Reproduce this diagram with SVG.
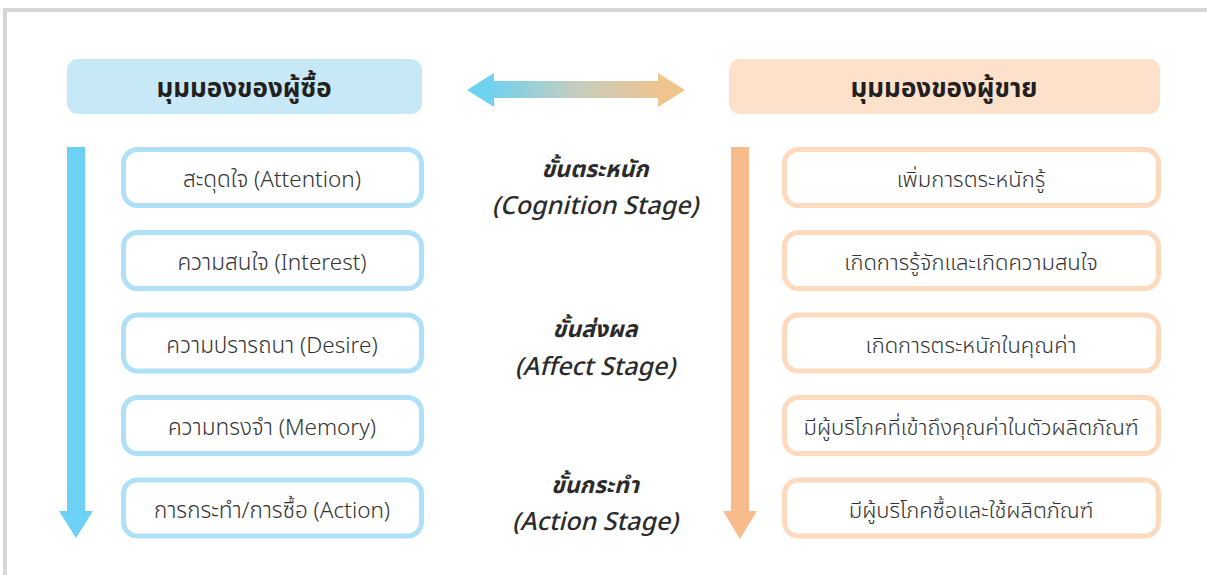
<svg xmlns="http://www.w3.org/2000/svg" width="1207" height="575" viewBox="0 0 1207 575">
  <defs>
    <linearGradient id="gradBoth" x1="467" y1="0" x2="685" y2="0" gradientUnits="userSpaceOnUse">
      <stop offset="0.1" stop-color="#6fd1f0"/>
      <stop offset="0.5" stop-color="#c4cdbf"/>
      <stop offset="0.9" stop-color="#f0c48d"/>
    </linearGradient>
    <style>
      .frame { fill: none; stroke: #d6d6d6; stroke-width: 4; }
      .head-text { font-family: "Noto Sans Thai", "Noto Sans", "Liberation Sans", sans-serif; font-size: 26px; font-weight: bold; fill: #231f20; text-anchor: middle; }
      .box-text { font-family: "Noto Sans Thai", "Noto Sans", "Liberation Sans", sans-serif; font-size: 22.5px; font-weight: 300; fill: #333333; text-anchor: middle; }
      .seller-text { font-size: 22px; }
      .stage-th { font-family: "Noto Sans Thai", "Noto Sans", "Liberation Sans", sans-serif; font-size: 23px; font-style: italic; font-weight: bold; fill: #2b2b2b; text-anchor: middle; }
      .stage-en { font-family: "Noto Sans Thai", "Noto Sans", "Liberation Sans", sans-serif; font-size: 25px; font-style: italic; font-weight: 500; fill: #2b2b2b; text-anchor: middle; }
      .buyer-box { fill: #ffffff; stroke: #aee0f8; stroke-width: 5; }
      .seller-box { fill: #ffffff; stroke: #fdd9bd; stroke-width: 5; }
    </style>
  </defs>

  <rect width="1207" height="575" fill="#ffffff"/>
  <!-- outer frame -->
  <path class="frame" d="M5,575 V10 H1207"/>

  <!-- column headers -->
  <g id="buyer-header">
    <rect x="67" y="59" width="355" height="55" rx="11" fill="#c7e8f7"/>
    <text class="head-text" x="244" y="97">มุมมองของผู้ซื้อ</text>
  </g>
  <g id="seller-header">
    <rect x="729" y="59" width="431" height="55" rx="11" fill="#fde1cb"/>
    <text class="head-text" x="944" y="97">มุมมองของผู้ขาย</text>
  </g>

  <!-- connectors -->
  <g id="connectors">
    <path id="link-headers" d="M467,90 L494,73 V81 H658 V73 L685,90 L658,107 V98 H494 V107 Z" fill="url(#gradBoth)"/>
    <path id="buyer-flow" d="M67,147 H85 V511 H93 L76,538 L59,511 H67 Z" fill="#6dd0f5"/>
    <path id="seller-flow" d="M731,147 H749 V511 H757 L740,539 L723,511 H731 Z" fill="#f8bb8c"/>
  </g>

  <!-- buyer steps -->
  <g id="buyer-attention">
    <rect class="buyer-box" x="123.5" y="149.5" width="298" height="56" rx="14"/>
    <text class="box-text" x="272" y="187">สะดุดใจ (Attention)</text>
  </g>
  <g id="buyer-interest">
    <rect class="buyer-box" x="123.5" y="232.5" width="298" height="56" rx="14"/>
    <text class="box-text" x="272" y="270">ความสนใจ (Interest)</text>
  </g>
  <g id="buyer-desire">
    <rect class="buyer-box" x="123.5" y="315" width="298" height="56" rx="14"/>
    <text class="box-text" x="272" y="352.5">ความปรารถนา (Desire)</text>
  </g>
  <g id="buyer-memory">
    <rect class="buyer-box" x="123.5" y="397.5" width="298" height="56" rx="14"/>
    <text class="box-text" x="272" y="435">ความทรงจำ (Memory)</text>
  </g>
  <g id="buyer-action">
    <rect class="buyer-box" x="123.5" y="480" width="298" height="56" rx="14"/>
    <text class="box-text" x="272" y="517.5">การกระทำ/การซื้อ (Action)</text>
  </g>

  <!-- stage labels -->
  <g id="stage-cognition">
    <text class="stage-th" x="595" y="177">ขั้นตระหนัก</text>
    <text class="stage-en" x="595" y="214">(Cognition Stage)</text>
  </g>
  <g id="stage-affect">
    <text class="stage-th" x="595" y="337">ขั้นส่งผล</text>
    <text class="stage-en" x="595" y="375">(Affect Stage)</text>
  </g>
  <g id="stage-action">
    <text class="stage-th" x="595" y="493">ขั้นกระทำ</text>
    <text class="stage-en" x="595" y="530">(Action Stage)</text>
  </g>

  <!-- seller steps -->
  <g id="seller-awareness">
    <rect class="seller-box" x="784.5" y="149.5" width="374" height="56" rx="14"/>
    <text class="box-text seller-text" x="971" y="187">เพิ่มการตระหนักรู้</text>
  </g>
  <g id="seller-interest">
    <rect class="seller-box" x="784.5" y="232.5" width="374" height="56" rx="14"/>
    <text class="box-text seller-text" x="971" y="270">เกิดการรู้จักและเกิดความสนใจ</text>
  </g>
  <g id="seller-value">
    <rect class="seller-box" x="784.5" y="315" width="374" height="56" rx="14"/>
    <text class="box-text seller-text" x="971" y="352.5">เกิดการตระหนักในคุณค่า</text>
  </g>
  <g id="seller-access">
    <rect class="seller-box" x="784.5" y="397.5" width="374" height="56" rx="14"/>
    <text class="box-text seller-text" x="971" y="435">มีผู้บริโภคที่เข้าถึงคุณค่าในตัวผลิตภัณฑ์</text>
  </g>
  <g id="seller-purchase">
    <rect class="seller-box" x="784.5" y="480" width="374" height="56" rx="14"/>
    <text class="box-text seller-text" x="971" y="517.5">มีผู้บริโภคซื้อและใช้ผลิตภัณฑ์</text>
  </g>
</svg>
